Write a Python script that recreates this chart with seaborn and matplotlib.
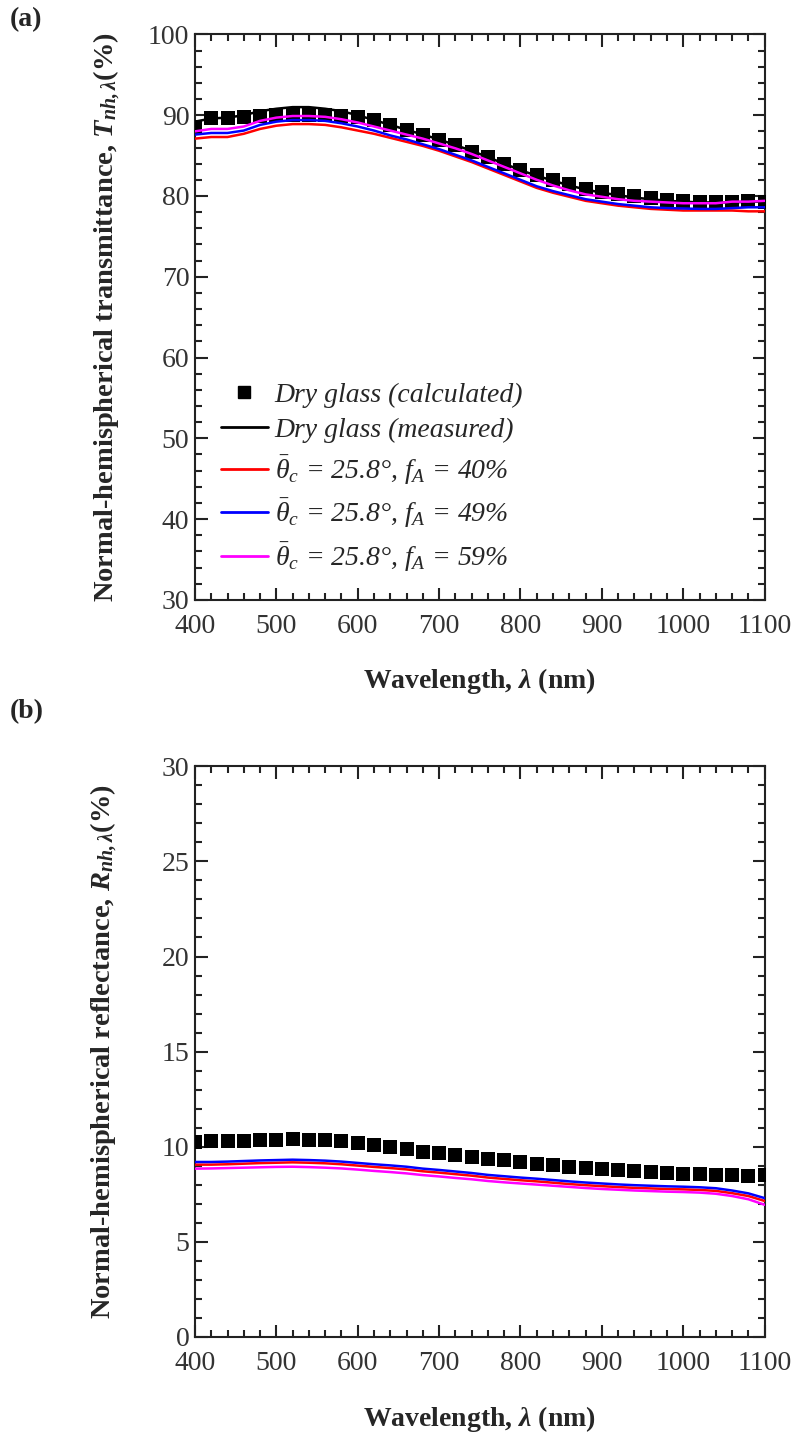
import matplotlib
matplotlib.use("Agg")
import matplotlib.pyplot as plt
from matplotlib.ticker import MultipleLocator
from matplotlib.lines import Line2D
import pandas as pd
import seaborn as sns

# Wavelength grid (nm)
wavelength = list(range(400, 1101, 20))

# (a) Normal-hemispherical transmittance (%)
T_calc = [88.5, 89.7, 89.7, 89.8, 89.9, 90.0, 90.0, 90.0, 90.0, 89.9, 89.8, 89.45,
          88.75, 88.13, 87.6, 86.98, 86.27, 85.5, 84.8, 84.0, 83.18, 82.56, 81.95, 81.45,
          80.92, 80.5, 80.3, 80.0, 79.76, 79.56, 79.4, 79.27, 79.27, 79.3, 79.4, 79.3]
T_meas = [89.2, 89.6, 89.7, 90.0, 90.5, 90.8, 91.0, 91.0, 90.8, 90.5, 90.0, 89.4,
          88.8, 88.2, 87.6, 87.0, 86.3, 85.6, 84.8, 84.0, 83.2, 82.5, 81.9, 81.3,
          80.8, 80.4, 80.1, 79.8, 79.6, 79.4, 79.3, 79.2, 79.2, 79.2, 79.3, 79.3]
T_fA40 = [87.1, 87.3, 87.3, 87.7, 88.3, 88.7, 88.9, 88.9, 88.8, 88.5, 88.1, 87.7,
          87.2, 86.7, 86.2, 85.6, 84.9, 84.2, 83.4, 82.6, 81.8, 81.0, 80.4, 79.9,
          79.4, 79.1, 78.8, 78.6, 78.4, 78.3, 78.2, 78.2, 78.2, 78.2, 78.1, 78.1]
T_fA49 = [87.6, 87.8, 87.8, 88.1, 88.8, 89.2, 89.4, 89.4, 89.3, 89.0, 88.6, 88.1,
          87.5, 87.0, 86.4, 85.8, 85.1, 84.4, 83.6, 82.8, 82.0, 81.2, 80.6, 80.1,
          79.6, 79.3, 79.0, 78.8, 78.6, 78.5, 78.45, 78.4, 78.4, 78.5, 78.6, 78.6]
T_fA59 = [88.0, 88.3, 88.3, 88.6, 89.3, 89.7, 89.9, 89.9, 89.8, 89.5, 89.1, 88.6,
          88.1, 87.6, 87.1, 86.5, 85.9, 85.2, 84.4, 83.6, 82.8, 82.0, 81.3, 80.7,
          80.2, 79.9, 79.6, 79.4, 79.3, 79.2, 79.1, 79.1, 79.1, 79.3, 79.3, 79.4]

# (b) Normal-hemispherical reflectance (%)
R_calc = [10.25, 10.3, 10.3, 10.32, 10.35, 10.38, 10.4, 10.38, 10.35, 10.3, 10.2, 10.08,
          9.98, 9.86, 9.75, 9.65, 9.55, 9.47, 9.38, 9.3, 9.2, 9.1, 9.02, 8.95,
          8.9, 8.85, 8.78, 8.72, 8.67, 8.62, 8.58, 8.55, 8.52, 8.5, 8.48, 8.5]
R_fA40 = [9.06, 9.06, 9.08, 9.11, 9.14, 9.16, 9.18, 9.16, 9.13, 9.08, 9.01, 8.94,
          8.88, 8.81, 8.71, 8.64, 8.56, 8.48, 8.38, 8.31, 8.24, 8.18, 8.11, 8.04,
          7.98, 7.93, 7.88, 7.84, 7.81, 7.78, 7.76, 7.73, 7.68, 7.56, 7.41, 7.15]
R_fA49 = [9.2, 9.2, 9.22, 9.25, 9.28, 9.3, 9.32, 9.3, 9.27, 9.22, 9.15, 9.08,
          9.02, 8.95, 8.85, 8.78, 8.7, 8.62, 8.52, 8.45, 8.38, 8.32, 8.25, 8.18,
          8.12, 8.07, 8.02, 7.98, 7.95, 7.92, 7.9, 7.87, 7.82, 7.7, 7.55, 7.3]
R_fA59 = [8.85, 8.86, 8.88, 8.9, 8.92, 8.94, 8.95, 8.93, 8.9, 8.86, 8.8, 8.73,
          8.67, 8.6, 8.51, 8.44, 8.36, 8.29, 8.2, 8.13, 8.07, 8.01, 7.95, 7.89,
          7.83, 7.78, 7.74, 7.7, 7.67, 7.64, 7.62, 7.59, 7.53, 7.41, 7.24, 6.95]

labels = ["Dry glass (calculated)",
          "Dry glass (measured)",
          r"$\bar{\theta}_c$ = 25.8°, $f_A$ = 40%",
          r"$\bar{\theta}_c$ = 25.8°, $f_A$ = 49%",
          r"$\bar{\theta}_c$ = 25.8°, $f_A$ = 59%"]
line_colors = ["#000000", "#ff0000", "#0000ff", "#ff00ff"]

sns.set_theme(style="ticks")
plt.rcParams.update({
    "font.family": ["Liberation Serif", "DejaVu Serif"],
    "mathtext.fontset": "custom",
    "mathtext.rm": "Liberation Serif",
    "mathtext.it": "Liberation Serif:italic",
    "mathtext.bf": "Liberation Serif:bold",
    "mathtext.bfit": "Liberation Serif:bold:italic",
    "axes.edgecolor": "#222222",
    "axes.linewidth": 1.5,
})

fig = plt.figure(figsize=(7.99, 14.35), dpi=100)
ax_a = fig.add_axes([0.244, 0.582, 0.713, 0.394])
ax_b = fig.add_axes([0.244, 0.0683, 0.713, 0.3977])

df_T = pd.DataFrame({"wl": wavelength, "calc": T_calc, "meas": T_meas,
                     "f40": T_fA40, "f49": T_fA49, "f59": T_fA59})
df_R = pd.DataFrame({"wl": wavelength, "calc": R_calc,
                     "f40": R_fA40, "f49": R_fA49, "f59": R_fA59})

sq_kw = dict(marker="s", s=100, color="black", edgecolor="black", linewidth=0, zorder=3)
ln_kw = dict(linewidth=1.8, zorder=4)

# Panel (a)
sns.scatterplot(data=df_T, x="wl", y="calc", ax=ax_a, **sq_kw)
for col, c in zip(["meas", "f40", "f49", "f59"], line_colors):
    sns.lineplot(data=df_T, x="wl", y=col, ax=ax_a, color=c, **ln_kw)

# Panel (b)
sns.scatterplot(data=df_R, x="wl", y="calc", ax=ax_b, **sq_kw)
for col, c in zip(["f40", "f49", "f59"], line_colors[1:]):
    sns.lineplot(data=df_R, x="wl", y=col, ax=ax_b, color=c, **ln_kw)

tick_fs = 20
for ax, ylo, yhi, ymaj, ymin in [(ax_a, 30, 100, 10, 2), (ax_b, 0, 30, 5, 1)]:
    ax.set_xlim(400, 1100)
    ax.set_ylim(ylo, yhi)
    ax.xaxis.set_major_locator(MultipleLocator(100))
    ax.xaxis.set_minor_locator(MultipleLocator(20))
    ax.yaxis.set_major_locator(MultipleLocator(ymaj))
    ax.yaxis.set_minor_locator(MultipleLocator(ymin))
    ax.tick_params(which="both", direction="in", top=True, right=True,
                   color="#222222", width=1.5)
    ax.tick_params(which="major", length=9, labelsize=tick_fs,
                   labelcolor="#333333")
    ax.tick_params(axis="x", which="major", pad=10)
    ax.tick_params(axis="y", which="major", pad=4)
    ax.tick_params(which="minor", length=5)
    ax.set_xlabel(r"Wavelength, $\mathbfit{\lambda}$ (nm)", fontsize=20,
                  fontweight="bold", labelpad=20)
    for sp in ax.spines.values():
        sp.set_visible(True)

ax_a.set_ylabel(r"Normal-hemispherical transmittance, $\mathbfit{T}_{\mathbfit{nh,\lambda}}$(%)",
                fontsize=20.5, fontweight="bold", labelpad=18)
ax_b.set_ylabel(r"Normal-hemispherical reflectance, $\mathbfit{R}_{\mathbfit{nh,\lambda}}$(%)",
                fontsize=20.5, fontweight="bold", labelpad=30)

fig.text(0.012, 0.986, "(a)", fontsize=20, fontweight="bold", va="center", ha="left")
fig.text(0.012, 0.504, "(b)", fontsize=20, fontweight="bold", va="center", ha="left")

handles = [Line2D([], [], linestyle="none", marker="s", markersize=9, color="black")]
handles += [Line2D([], [], color=c, linewidth=2) for c in line_colors]
ax_a.legend(handles, labels, loc="upper left", bbox_to_anchor=(0.045, 0.385),
            frameon=False, prop={"style": "italic", "size": 20},
            handlelength=1.7, handletextpad=0.25, labelspacing=0.36,
            borderaxespad=0, borderpad=0)

fig.savefig("out.png", dpi=100, facecolor="white")
